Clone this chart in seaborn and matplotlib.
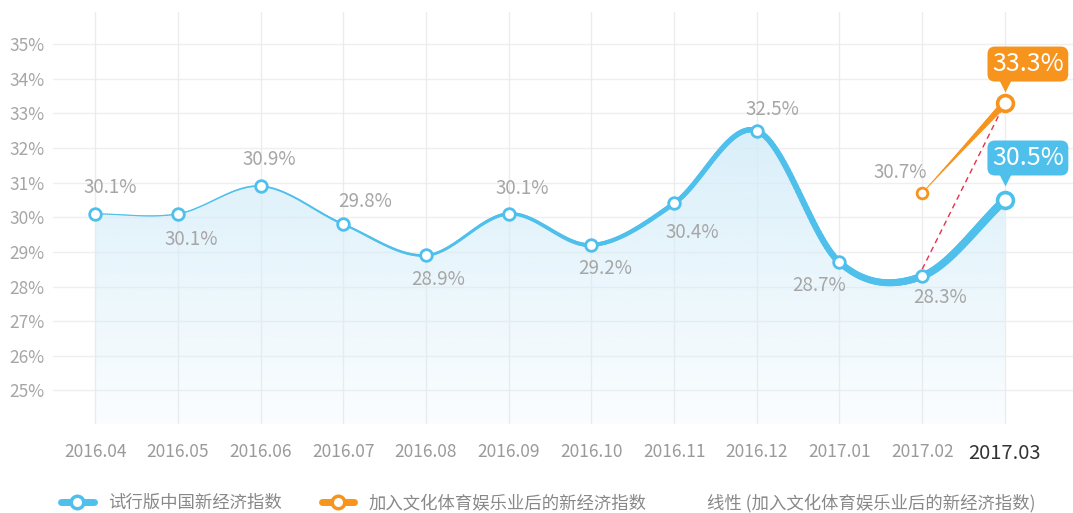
import numpy as np
import matplotlib
matplotlib.use('Agg')
import matplotlib.pyplot as plt
import matplotlib.transforms as mtransforms
import seaborn as sns
import pandas as pd
from matplotlib.collections import LineCollection
from matplotlib.lines import Line2D
from matplotlib.patches import Polygon

# data
months = ['2016.04', '2016.05', '2016.06', '2016.07', '2016.08', '2016.09',
          '2016.10', '2016.11', '2016.12', '2017.01', '2017.02', '2017.03']
base_index = [30.1, 30.1, 30.9, 29.8, 28.9, 30.1, 29.2, 30.4, 32.5, 28.7, 28.3, 30.5]
culture_months = ['2017.02', '2017.03']
culture_index = [30.7, 33.3]
trend_months = ['2017.02', '2017.03']
trend_values = [28.5, 33.3]
series_names = ['试行版中国新经济指数', '加入文化体育娱乐业后的新经济指数',
                '线性 (加入文化体育娱乐业后的新经济指数)']
y_ticks = list(range(25, 36))

BLUE = '#4fc0ec'
ORANGE = '#f7941d'
RED = '#e8304a'
GREY = '#a6a6a6'

sns.set_theme(style='white')
plt.rcParams['font.family'] = ['Noto Sans CJK SC', 'DejaVu Sans']


def smooth(xs, ys, n=40):
    # cubic hermite (catmull-rom tangents) just for drawing the curve
    xs = np.asarray(xs, float)
    ys = np.asarray(ys, float)
    m = np.gradient(ys, xs)
    out_x, out_y = [], []
    for i in range(len(xs) - 1):
        t = np.linspace(0, 1, n, endpoint=(i == len(xs) - 2))
        h = xs[i + 1] - xs[i]
        h00 = 2 * t**3 - 3 * t**2 + 1
        h10 = t**3 - 2 * t**2 + t
        h01 = -2 * t**3 + 3 * t**2
        h11 = t**3 - t**2
        out_x.append(xs[i] + t * h)
        out_y.append(h00 * ys[i] + h10 * h * m[i] + h01 * ys[i + 1] + h11 * h * m[i + 1])
    return np.concatenate(out_x), np.concatenate(out_y)


def tapered_line(ax, x, y, w0, w1, color, power=1.3):
    pts = np.column_stack([x, y]).reshape(-1, 1, 2)
    segs = np.concatenate([pts[:-1], pts[1:]], axis=1)
    t = (x[:-1] - x[0]) / (x[-1] - x[0])
    widths = w0 + (w1 - w0) * t**power
    lc = LineCollection(segs, colors=color, linewidths=widths, capstyle='round', zorder=4)
    ax.add_collection(lc)


df = pd.DataFrame({'month': months, 'pos': np.arange(len(months)), 'value': base_index})
pos_of = {m: i for i, m in enumerate(months)}
dfc = pd.DataFrame({'pos': [pos_of[m] for m in culture_months], 'value': culture_index})

fig = plt.figure(figsize=(10.73, 5.13), dpi=100)
ax = fig.add_axes([53 / 1073, 89 / 513, 1020 / 1073, 412 / 513])

x0 = -0.51
x1 = x0 + 1020 / 82.7
ax.set_xlim(x0, x1)
ax.set_ylim(24.03, 35.93)

# grid
for yt in y_ticks:
    ax.axhline(yt, color='#efefef', lw=1, zorder=0)
for p in df['pos']:
    ax.axvline(p, color='#ececec', lw=1, zorder=0)

# gradient fill under the blue curve
sx, sy = smooth(df['pos'], df['value'])
poly_xy = np.vstack([np.column_stack([sx, sy]), [[sx[-1], 24.03], [sx[0], 24.03]]])
poly = Polygon(poly_xy, closed=True, fc='none', ec='none')
ax.add_patch(poly)
grad = np.zeros((256, 1, 4))
grad[:, 0, :3] = matplotlib.colors.to_rgb('#d3ecf9')
grad[:, 0, 3] = np.linspace(0.85, 0.1, 256)
im = ax.imshow(grad, extent=[sx[0], sx[-1], 24.03, 32.6], origin='upper',
               aspect='auto', zorder=1)
im.set_clip_path(poly)

# lines
tapered_line(ax, sx, sy, 0.8, 6.0, BLUE, power=1.5)
cx, cy = smooth(dfc['pos'], dfc['value'])
tapered_line(ax, cx, cy, 0.6, 5.0, ORANGE, power=1.4)
ax.plot([pos_of[m] for m in trend_months], trend_values, color=RED, lw=1,
        ls=(0, (4, 3)), zorder=3)

# markers
sns.scatterplot(data=df.iloc[:-1], x='pos', y='value', s=70, color='white',
                edgecolor=BLUE, linewidth=2, zorder=6, ax=ax, legend=False)
sns.scatterplot(data=df.iloc[-1:], x='pos', y='value', s=130, color='white',
                edgecolor=BLUE, linewidth=2.6, zorder=6, ax=ax, legend=False)
sns.scatterplot(data=dfc.iloc[:1], x='pos', y='value', s=60, color='white',
                edgecolor=ORANGE, linewidth=2, zorder=6, ax=ax, legend=False)
sns.scatterplot(data=dfc.iloc[1:], x='pos', y='value', s=130, color='white',
                edgecolor=ORANGE, linewidth=2.6, zorder=6, ax=ax, legend=False)

# value labels (offsets in pixels)
offsets = [(15, 26), (13, -26), (9, 27), (22, 23), (12, -24), (14, 25),
           (14, -23), (18, -29), (16, 21), (-20, -23), (18, -21)]
for (dx, dy), p, v in zip(offsets, df['pos'], df['value']):
    ax.annotate(f'{v:.1f}%', (p, v), xytext=(dx, dy), textcoords='offset pixels',
                ha='center', va='center', fontsize=13.5, color=GREY, zorder=7)
ax.annotate(f'{culture_index[0]:.1f}%', (dfc['pos'][0], culture_index[0]), xytext=(-22, 21),
            textcoords='offset pixels', ha='center', va='center', fontsize=13.5,
            color=GREY, zorder=7)

# callouts for the latest month
for p, v, col, dy in [(dfc['pos'][1], culture_index[1], ORANGE, 39),
                      (df['pos'].iloc[-1], base_index[-1], BLUE, 42)]:
    ax.annotate(f'{v:.1f}%', (p, v), xytext=(23, dy), textcoords='offset pixels',
                ha='center', va='center', fontsize=18, color='white', zorder=8,
                bbox=dict(boxstyle='round,pad=0.18,rounding_size=0.3', fc=col, ec='none'),
                annotation_clip=False)
    tri = mtransforms.offset_copy(ax.transData, fig=fig, x=0, y=dy - 22, units='dots')
    ax.plot([p], [v], marker='v', ms=9, color=col, mec='none', transform=tri,
            zorder=8, clip_on=False)

# axes
ax.set_yticks(y_ticks)
ax.set_yticklabels([f'{t}%' for t in y_ticks], color=GREY, fontsize=12.5)
ax.set_xticks(df['pos'])
ax.set_xticklabels(months, color='#9a9a9a', fontsize=12.5)
last = ax.get_xticklabels()[-1]
last.set_color('#333333')
last.set_fontsize(14.5)
ax.tick_params(axis='y', length=0, pad=6)
ax.tick_params(axis='x', length=0, pad=14)
ax.set_xlabel('')
ax.set_ylabel('')
for s in ax.spines.values():
    s.set_visible(False)

# legend
handles = [
    Line2D([], [], color=BLUE, lw=5, marker='o', ms=9, mfc='white', mec=BLUE, mew=2.5),
    Line2D([], [], color=ORANGE, lw=5, marker='o', ms=9, mfc='white', mec=ORANGE, mew=2.5),
]
leg_y = 1 - 503 / 513
fig.legend(handles, series_names[:2], loc='center left', bbox_to_anchor=(54 / 1073, leg_y),
           ncol=2, frameon=False, fontsize=12.5, handlelength=1.9, handletextpad=0.8,
           columnspacing=2.3, labelcolor='#888888', borderaxespad=0)
fig.text(707 / 1073, leg_y, series_names[2], ha='left', va='center',
         fontsize=12.5, color='#888888')

fig.savefig('out.png', dpi=100)
